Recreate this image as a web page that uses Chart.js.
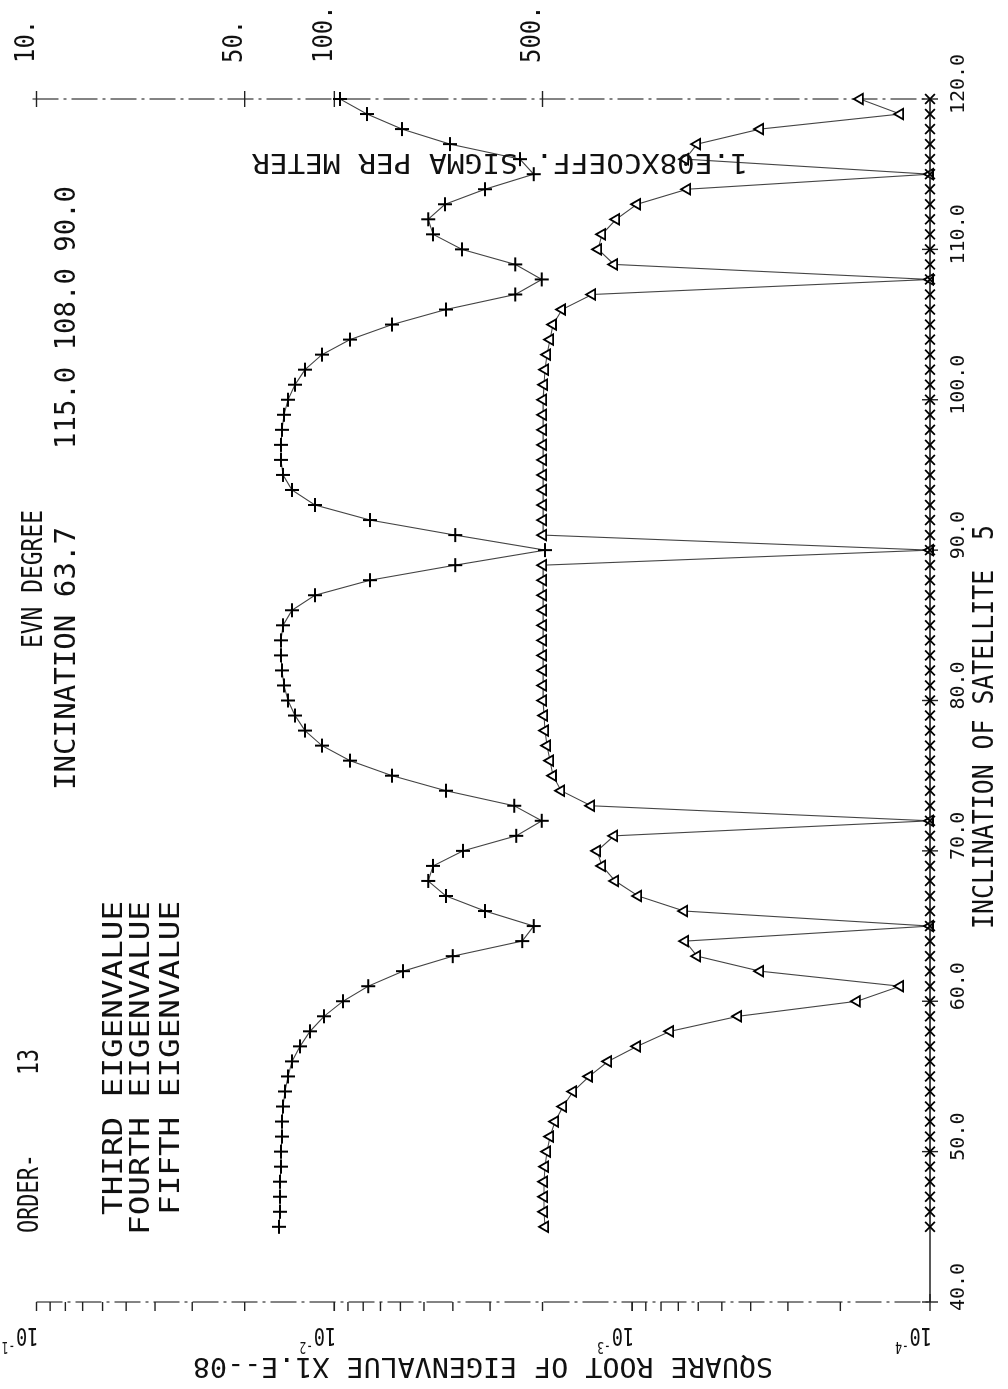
<!DOCTYPE html>
<html>
<head>
<meta charset="utf-8">
<script src="https://cdn.jsdelivr.net/npm/chart.js@4.4.1/dist/chart.umd.min.js"></script>
<style>
  html, body { margin: 0; padding: 0; background: #fff; width: 1008px; height: 1389px; overflow: hidden; }
  /* the plot is drawn lying on its side, like the plotter sheet */
  #wrap { position: absolute; left: 0; top: 0; width: 1389px; height: 1008px;
          transform-origin: 0 0; transform: translateY(1389px) rotate(-90deg); }
</style>
</head>
<body>
<div id="wrap"><canvas id="chart" width="1389" height="1008"></canvas></div>
<script>
// Inclination of satellite (degrees)
const inclination = [45, 46, 47, 48, 49, 50, 51, 52, 53, 54, 55, 56, 57, 58, 59, 60, 61, 62, 63, 64,
  65, 66, 67, 68, 69, 70, 71, 72, 73, 74, 75, 76, 77, 78, 79, 80, 81, 82, 83, 84,
  85, 86, 87, 88, 89, 90, 91, 92, 93, 94, 95, 96, 97, 98, 99, 100, 101, 102, 103, 104,
  105, 106, 107, 108, 109, 110, 111, 112, 113, 114, 115, 116, 117, 118, 119, 120];

// Square root of eigenvalue (x1.E-08)
const thirdEig = [0.01533, 0.01522, 0.01522, 0.01522, 0.01510, 0.01510, 0.01498, 0.01498, 0.01487, 0.01464,
  0.01430, 0.01387, 0.01304, 0.01207, 0.01083, 0.00935, 0.00770, 0.00588, 0.00400, 0.00234,
  0.00214, 0.00312, 0.00422, 0.00484, 0.00466, 0.00370, 0.00245, 0.00201, 0.00249, 0.00422,
  0.00640, 0.00886, 0.01100, 0.01255, 0.01355, 0.01430, 0.01475, 0.01498, 0.01510, 0.01510,
  0.01487, 0.01387, 0.01161, 0.00759, 0.00393, 0.00196, 0.00393, 0.00759, 0.01161, 0.01387,
  0.01487, 0.01510, 0.01510, 0.01498, 0.01475, 0.01430, 0.01355, 0.01255, 0.01100, 0.00886,
  0.00640, 0.00422, 0.00247, 0.00201, 0.00247, 0.00373, 0.00466, 0.00484, 0.00425, 0.00312,
  0.00214, 0.00238, 0.00409, 0.00593, 0.00777, 0.00957];

const fourthEig = [0.001961, 0.001976, 0.001976, 0.001976, 0.001961, 0.001931, 0.001887, 0.001815, 0.001706, 0.001579,
  0.001396, 0.001205, 0.000963, 0.000746, 0.000441, 0.000176, 0.000126, 0.000372, 0.000605, 0.000664,
  0.0001, 0.000669, 0.000955, 0.001141, 0.001262, 0.001312, 0.001150, 0.0001, 0.001374, 0.001733,
  0.001844, 0.001887, 0.001931, 0.001961, 0.001976, 0.001991, 0.001991, 0.001991, 0.001991, 0.001991,
  0.001991, 0.001991, 0.001991, 0.001991, 0.001991, 0.0001, 0.001991, 0.001991, 0.001991, 0.001991,
  0.001991, 0.001991, 0.001991, 0.001991, 0.001991, 0.001991, 0.001976, 0.001961, 0.001931, 0.001887,
  0.001844, 0.001720, 0.001363, 0.0001, 0.001150, 0.001302, 0.001262, 0.001132, 0.000963, 0.000654,
  0.0001, 0.000664, 0.000605, 0.000372, 0.000126, 0.000172];

// fifth eigenvalue sits on the bottom of the scale all the way
const fifthEig = [0.0001, 0.0001, 0.0001, 0.0001, 0.0001, 0.0001, 0.0001, 0.0001, 0.0001, 0.0001,
  0.0001, 0.0001, 0.0001, 0.0001, 0.0001, 0.0001, 0.0001, 0.0001, 0.0001, 0.0001,
  0.0001, 0.0001, 0.0001, 0.0001, 0.0001, 0.0001, 0.0001, 0.0001, 0.0001, 0.0001,
  0.0001, 0.0001, 0.0001, 0.0001, 0.0001, 0.0001, 0.0001, 0.0001, 0.0001, 0.0001,
  0.0001, 0.0001, 0.0001, 0.0001, 0.0001, 0.0001, 0.0001, 0.0001, 0.0001, 0.0001,
  0.0001, 0.0001, 0.0001, 0.0001, 0.0001, 0.0001, 0.0001, 0.0001, 0.0001, 0.0001,
  0.0001, 0.0001, 0.0001, 0.0001, 0.0001, 0.0001, 0.0001, 0.0001, 0.0001, 0.0001,
  0.0001, 0.0001, 0.0001, 0.0001, 0.0001, 0.0001];

// Tick labels
const incTicks = [40, 50, 60, 70, 80, 90, 100, 110, 120];
const decadeTicks = [0.1, 0.01, 0.001, 0.0001];
const decadeExp = ['-1', '-2', '-3', '-4'];
const coeffTicks = [10, 50, 100, 500];   // 1.E08 x COEFF., sigma per meter

const MONO = '"DejaVu Sans Mono", "Liberation Mono", monospace';

function drawText(ctx, str, x, y, o) {
  ctx.save();
  ctx.translate(x, y);
  ctx.rotate(o.rot || 0);
  ctx.font = o.size + 'px ' + MONO;
  ctx.textBaseline = 'middle';
  ctx.textAlign = 'left';
  const w = ctx.measureText(str).width;
  const sx = o.len ? o.len / w : (o.sx || 1);
  ctx.scale(sx, 1);
  let x0 = 0;
  if (o.align === 'center') x0 = -w / 2;
  if (o.align === 'right') x0 = -w;
  ctx.fillStyle = '#111';
  ctx.fillText(str, x0, o.dy || 0);
  ctx.restore();
  return w * sx;
}

function seg(ctx, x1, y1, x2, y2) {
  ctx.beginPath();
  ctx.moveTo(x1, y1);
  ctx.lineTo(x2, y2);
  ctx.stroke();
}

// Axes, ticks and all the lettering of the plotter sheet
const plotFrame = {
  id: 'plotFrame',
  beforeDatasetsDraw(chart) {
    const { ctx, chartArea: a, scales: { x, y } } = chart;
    ctx.save();
    ctx.strokeStyle = '#222';
    ctx.lineWidth = 1.4;

    // inclination axis
    seg(ctx, a.left, a.bottom, a.right, a.bottom);
    incTicks.forEach(t => {
      const px = x.getPixelForValue(t);
      seg(ctx, px, a.bottom - 8, px, a.bottom + 8);
    });

    // eigenvalue axis (left) and coefficient axis (right), pen skips a lot
    ctx.strokeStyle = '#333';
    ctx.lineWidth = 1.2;
    ctx.setLineDash([26, 5, 3, 5]);
    seg(ctx, a.left, a.top, a.left, a.bottom);
    seg(ctx, a.right, a.top - 4, a.right, a.bottom);
    ctx.setLineDash([]);
    ctx.strokeStyle = '#222';
    ctx.lineWidth = 1.4;

    // log ticks, pointing outward
    for (let d = 0.0001; d < 0.1; d *= 10) {
      for (let k = 1; k <= 10; k++) {
        const py = y.getPixelForValue(k * d);
        seg(ctx, a.left - 9, py, a.left, py);
      }
    }
    seg(ctx, a.left, a.bottom, a.left + 8, a.bottom);

    coeffTicks.forEach(s => {
      const py = y.getPixelForValue(1 / s);
      seg(ctx, a.right - 8, py, a.right + 8, py);
    });
    ctx.restore();
  },
  afterDraw(chart) {
    const { ctx, chartArea: a, scales: { x, y } } = chart;

    // inclination tick labels and title
    incTicks.forEach(t => {
      drawText(ctx, t.toFixed(1), x.getPixelForValue(t) + 15, 959, { size: 20, align: 'center' });
    });
    drawText(ctx, 'INCLINATION OF SATELLITE  5', 460, 985, { size: 29, len: 404 });

    // decade labels 10^-n, written along the axis
    decadeTicks.forEach((v, i) => {
      const py = y.getPixelForValue(v);
      ctx.save();
      ctx.translate(54, py + 2);
      ctx.rotate(-Math.PI / 2);
      ctx.scale(0.75, 1);
      ctx.font = '25px ' + MONO;
      ctx.textBaseline = 'middle';
      ctx.fillStyle = '#111';
      ctx.fillText('10', 0, 0);
      const w = ctx.measureText('10').width;
      ctx.font = '15px ' + MONO;
      ctx.fillText(decadeExp[i], w + 1, -11);
      ctx.restore();
    });
    drawText(ctx, 'SQUARE ROOT OF EIGENVALUE X1.E--08', 24, 773,
      { rot: -Math.PI / 2, size: 27, len: 580 });

    // coefficient scale
    coeffTicks.forEach(s => {
      drawText(ctx, s + '.', 1326, y.getPixelForValue(1 / s) - 9, { size: 26, sx: 0.92 });
    });
    drawText(ctx, '1.E08XCOEFF. SIGMA PER METER', 1228, 748,
      { rot: -Math.PI / 2, size: 27, len: 496 });

    // heading
    drawText(ctx, 'EVN DEGREE', 741, 34, { size: 29, len: 138 });
    drawText(ctx, 'INCINATION 63.7', 599, 67, { size: 29, len: 263 });
    drawText(ctx, '115.0 108.0 90.0', 940, 67, { size: 29, len: 263 });
    drawText(ctx, 'ORDER-', 156, 31, { size: 28, len: 79 });
    drawText(ctx, '13', 314, 31, { size: 28, len: 26 });

    // legend
    drawText(ctx, 'THIRD EIGENVALUE', 488, 115, { size: 27, len: 314, align: 'right' });
    drawText(ctx, 'FOURTH EIGENVALUE', 488, 142, { size: 27, len: 334, align: 'right' });
    drawText(ctx, 'FIFTH EIGENVALUE', 488, 172, { size: 27, len: 314, align: 'right' });
  }
};

function series(values) {
  return inclination.map((inc, i) => ({ x: inc, y: values[i] }));
}

new Chart(document.getElementById('chart'), {
  type: 'scatter',
  data: {
    datasets: [
      {
        label: 'FIFTH EIGENVALUE',
        data: series(fifthEig),
        showLine: true,
        borderColor: '#333',
        borderWidth: 1.2,
        pointStyle: 'crossRot',
        pointRadius: 7,
        pointBorderColor: '#000',
        pointBorderWidth: 1.8,
        clip: false
      },
      {
        label: 'FOURTH EIGENVALUE',
        data: series(fourthEig),
        showLine: true,
        borderColor: '#444',
        borderWidth: 1.1,
        pointStyle: 'triangle',
        pointRadius: 6,
        pointBackgroundColor: '#fff',
        pointBorderColor: '#000',
        pointBorderWidth: 1.8,
        clip: false
      },
      {
        label: 'THIRD EIGENVALUE',
        data: series(thirdEig),
        showLine: true,
        borderColor: '#444',
        borderWidth: 1.1,
        pointStyle: 'cross',
        pointRadius: 7,
        pointBorderColor: '#000',
        pointBorderWidth: 2,
        clip: false
      }
    ]
  },
  options: {
    responsive: false,
    animation: false,
    devicePixelRatio: 1,
    layout: { padding: { left: 87, right: 99, top: 36.5, bottom: 78 } },
    plugins: {
      legend: { display: false },
      tooltip: { enabled: false }
    },
    scales: {
      x: { type: 'linear', min: 40, max: 120, display: false },
      y: { type: 'logarithmic', min: 0.0001, max: 0.1, display: false }
    }
  },
  plugins: [plotFrame]
});
</script>
</body>
</html>
